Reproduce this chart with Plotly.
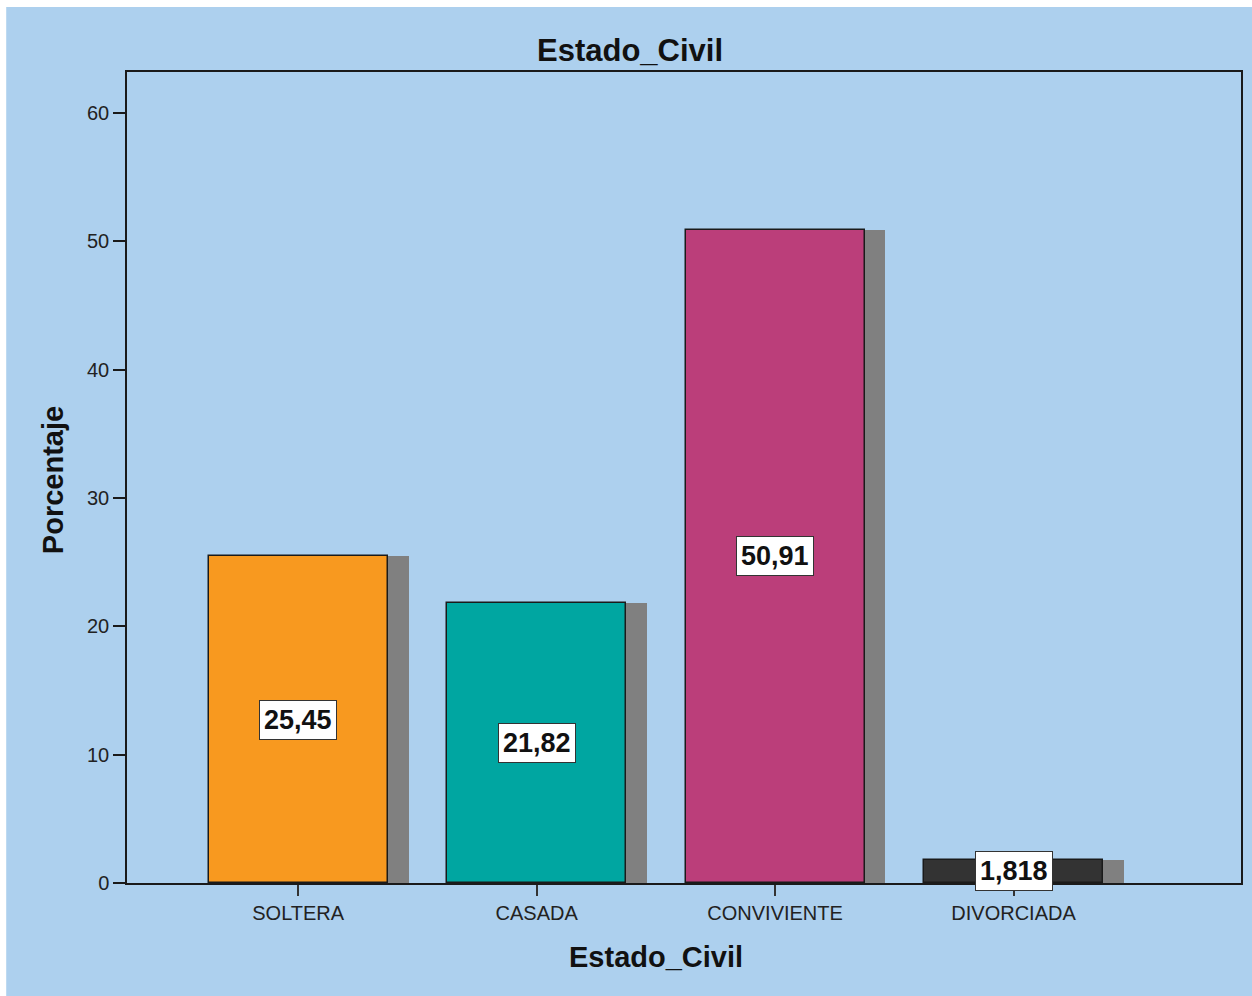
import plotly.graph_objects as go

categories = ["SOLTERA", "CASADA", "CONVIVIENTE", "DIVORCIADA"]
values = [25.45, 21.82, 50.91, 1.818]
bar_colors = ["#F8991F", "#00A6A1", "#BB3E7A", "#333333"]
y_ticks = [0, 10, 20, 30, 40, 50, 60]

W, H = 1252, 996
ML, MR, MT, MB = 127, 9, 72, 113
PW, PH = W - ML - MR, H - MT - MB
BLUE = "#ADD0EE"

def px_x(px):
    return (px - ML) / PW

def px_y(py):
    return (H - MB - py) / PH

idx = list(range(len(categories)))
bw = 0.75
shadow_dx = 0.088

fig = go.Figure()
# shadow
fig.add_trace(go.Bar(
    x=idx, y=values, width=bw, offset=-bw / 2 + shadow_dx,
    marker=dict(color="#808080", line=dict(width=0)),
    hoverinfo="skip", showlegend=False,
))
# main bars
fig.add_trace(go.Bar(
    x=idx, y=values, width=bw, offset=-bw / 2,
    marker=dict(color=bar_colors, line=dict(color="#1a1a1a", width=1.5)),
    showlegend=False,
))

narrow = "Liberation Sans Narrow, Arial Narrow, Liberation Sans, Arial, sans-serif"
sans = "Liberation Sans, Arial, sans-serif"

annotations = []
for i, v in zip(idx, values):
    annotations.append(dict(
        x=i, y=v / 2, xref="x", yref="y",
        text="<b>" + str(v).replace(".", ",") + "</b>",
        showarrow=False, bgcolor="white", bordercolor="#333333",
        borderwidth=1, borderpad=4,
        font=dict(family=narrow, size=27, color="#111111"),
    ))
# axis titles
annotations.append(dict(
    x=px_x(657), y=px_y(957), xref="paper", yref="paper",
    text="<b>Estado_Civil</b>", showarrow=False,
    xanchor="center", yanchor="middle",
    font=dict(family=sans, size=29, color="#111111"),
))
annotations.append(dict(
    x=px_x(53), y=px_y(480), xref="paper", yref="paper",
    text="<b>Porcentaje</b>", showarrow=False, textangle=-90,
    xanchor="center", yanchor="middle",
    font=dict(family=sans, size=29, color="#111111"),
))

shapes = [
    dict(type="rect", xref="paper", yref="paper",
         x0=px_x(-5), x1=px_x(6), y0=px_y(H + 5), y1=px_y(-5),
         fillcolor="white", line=dict(width=0), layer="above"),
    dict(type="rect", xref="paper", yref="paper",
         x0=px_x(-5), x1=px_x(W + 5), y0=px_y(7), y1=px_y(-5),
         fillcolor="white", line=dict(width=0), layer="above"),
]

fig.update_layout(
    width=W, height=H,
    margin=dict(l=ML, r=MR, t=MT, b=MB, pad=0),
    paper_bgcolor=BLUE, plot_bgcolor=BLUE,
    barmode="overlay", bargap=0,
    title=dict(text="<b>Estado_Civil</b>", x=0.5032, xref="container",
               y=1 - 50 / H, yref="container", xanchor="center", yanchor="middle",
               font=dict(family=sans, size=31, color="#111111")),
    annotations=annotations,
    shapes=shapes,
    font=dict(family=sans, color="#222222"),
)
fig.update_xaxes(
    range=[-0.718, 3.954], tickvals=idx, ticktext=categories,
    showgrid=False, zeroline=False,
    showline=True, linecolor="#1a1a1a", linewidth=1.5, mirror=True,
    ticks="outside", ticklen=11, tickwidth=1.5, tickcolor="#333333",
    tickfont=dict(family=sans, size=20, color="#222222"),
)
fig.update_yaxes(
    range=[0, 63.2], tickvals=y_ticks,
    showgrid=False, zeroline=False,
    showline=True, linecolor="#1a1a1a", linewidth=1.5, mirror=True,
    ticks="outside", ticklen=12, tickwidth=1.5, tickcolor="#1a1a1a",
    tickfont=dict(family=sans, size=20, color="#222222"),
)

fig.write_html("out.html")
